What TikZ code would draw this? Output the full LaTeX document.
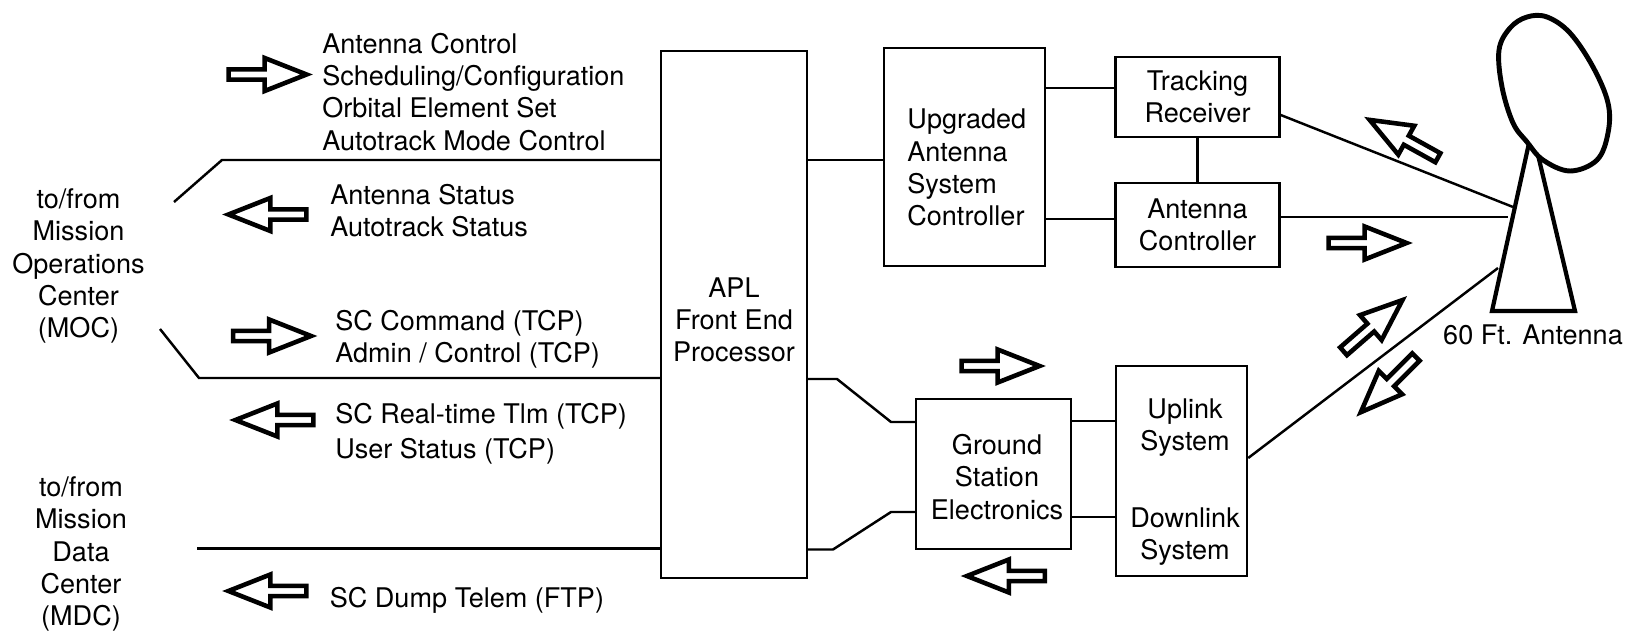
\documentclass[tikz,border=0pt]{standalone}
\usepackage{fontspec}
\setmainfont{TeX Gyre Heros}
\usetikzlibrary{shapes.arrows}

\begin{document}
\begin{tikzpicture}[
  x=0.02cm, y=-0.02cm,
  box/.style={rectangle, draw=black, line width=1.4pt, inner sep=0pt, align=center, font=\fontsize{15.4}{18.3}\selectfont},
  lbl/.style={inner sep=0pt, align=center, font=\fontsize{15.4}{18.3}\selectfont},
  lbll/.style={lbl, align=left, anchor=west},
  conn/.style={line width=1.4pt, black},
  fatarrow/.style={single arrow, draw=black, line width=2.6pt, fill=white, inner sep=0pt, minimum height=1.56cm,
                   minimum width=0.66cm, single arrow head extend=0.10cm, single arrow tip angle=43},
  tower/.style={line width=2.4pt, black, line join=miter}
]
\useasboundingbox (0,0) rectangle (1628,631);

\node[box, minimum width=2.92cm, minimum height=10.54cm] (fep) at (734,314.5) {};
\node[box, minimum width=3.22cm, minimum height=4.36cm] (uasc) at (964.5,157) {};
\node[box, minimum width=3.28cm, minimum height=1.60cm] (track) at (1197.5,97) {Tracking\\Receiver};
\node[box, minimum width=3.28cm, minimum height=1.68cm] (actrl) at (1197.5,225) {Antenna\\Controller};
\node[box, minimum width=3.10cm, minimum height=3.00cm] (gse) at (993.5,474) {};
\node[box, minimum width=2.62cm, minimum height=4.20cm] (updown) at (1181.5,471) {};

\node[lbl] (feptext) at (734,320) {APL\\Front End\\Processor};
\node[lbll] (uasctext) at (907,167.5) {Upgraded\\Antenna\\System\\Controller};
\node[lbl] (gsetext) at (997,477) {Ground\\Station\\Electronics};
\node[lbl] (uptext) at (1185,428) {Uplink\\System};
\node[lbl] (downtext) at (1185,536.5) {Downlink\\System};
\node[lbl] (anttext) at (1533,335) {60 Ft. Antenna};

\node[lbl] (moc) at (78.5,266) {to/from\\Mission\\Operations\\Center\\(MOC)};
\node[lbl] (mdc) at (81,554) {to/from\\Mission\\Data\\Center\\(MDC)};

\node[lbll] (cmdtext) at (322,92) {Antenna Control\\Scheduling/Configuration\\Orbital Element Set\\Autotrack Mode Control};
\node[lbll] (stattext) at (330,210.5) {Antenna Status\\Autotrack Status};
\node[lbll] (sctext) at (335,339.5) {SC Command (TCP)\\Admin / Control (TCP)};
\node[lbll] (tlmtext) at (335,433.5) {SC Real-time Tlm (TCP)\\[1.5pt]User Status (TCP)};
\node[lbll] (dumptext) at (329.5,600) {SC Dump Telem (FTP)};

% block arrows
\node[fatarrow] (a1) at (261,74.5) {};
\node[fatarrow, rotate=180] (a2) at (274,214.5) {};
\node[fatarrow] (a3) at (265.5,336) {};
\node[fatarrow, rotate=180] (a4) at (281,420) {};
\node[fatarrow, rotate=180] (a5) at (274,591) {};
\node[fatarrow] (a6) at (994,366) {};
\node[fatarrow, rotate=180] (a7) at (1012.5,576) {};
\node[fatarrow] (a8) at (1361,243) {};
\node[fatarrow, rotate=151] (a9) at (1409.5,142) {};
\node[fatarrow, rotate=41] (a10) at (1368,330) {};
\node[fatarrow, rotate=225] (a11) at (1393,380) {};

% free ends and bends
\coordinate (moc1) at (174,202);
\coordinate (moc2) at (222,160);
\coordinate (moc3) at (160,329);
\coordinate (moc4) at (199,378);
\coordinate (mdc1) at (197,548.5);
\coordinate (gs1) at (837,379);
\coordinate (gs2) at (891,422);
\coordinate (gs3) at (833,549.5);
\coordinate (gs4) at (891,512);
\coordinate (ant1) at (1513,207);
\coordinate (ant2) at (1508,217);
\coordinate (ant3) at (1498,268);

\draw[conn] (moc1)--(moc2)--(fep.west |- moc2);
\draw[conn] (moc3)--(moc4)--(fep.west |- moc4);
\draw[conn] (mdc1)--(fep.west |- mdc1);
\draw[conn] (fep.east |- moc2)--(uasc.west |- moc2);
\draw[conn] (fep.east |- gs1)--(gs1)--(gs2)--(gse.west |- gs2);
\draw[conn] (fep.east |- gs3)--(gs3)--(gs4)--(gse.west |- gs4);
\draw[conn] (gse.east |- 0,421)--(updown.west |- 0,421);
\draw[conn] (gse.east |- 0,517)--(updown.west |- 0,517);
\draw[conn] (uasc.east |- 0,88)--(track.west |- 0,88);
\draw[conn] (uasc.east |- 0,219)--(actrl.west |- 0,219);
\draw[conn] (track)--(actrl);
\draw[conn] (track.east |- 0,115)--(ant1);
\draw[conn] (actrl.east |- ant2)--(ant2);
\draw[conn] (updown.east |- 0,458)--(ant3);

% antenna
\draw[tower] (1529,143)--(1492,311)--(1575,311)--(1538,155);
\draw[line width=2.8pt] plot[smooth cycle, tension=0.6] coordinates {(1527,17) (1547,17) (1570,33) (1593,67) (1608,103) (1608,133) (1597,160) (1570,171) (1543,160) (1527,142) (1513,123) (1502,87) (1499,50) (1510,28)};
\end{tikzpicture}
\end{document}
